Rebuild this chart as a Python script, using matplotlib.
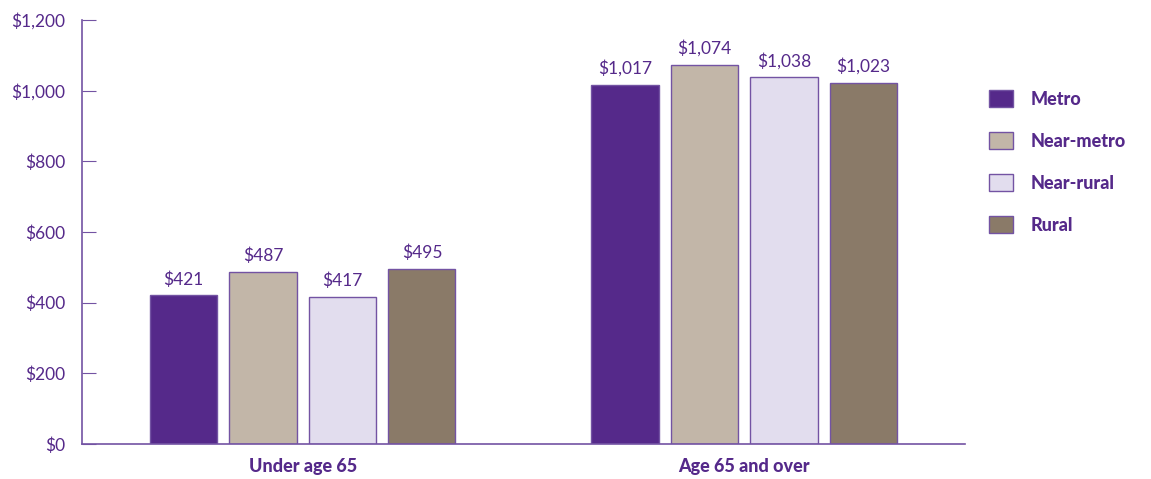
import numpy as np
import matplotlib.pyplot as plt
from matplotlib.patches import Patch

groups = ["Under age 65", "Age 65 and over"]
series = ["Metro", "Near-metro", "Near-rural", "Rural"]
metro = [421, 1017]
near_metro = [487, 1074]
near_rural = [417, 1038]
rural = [495, 1023]
yticks = [0, 200, 400, 600, 800, 1000, 1200]

values = [metro, near_metro, near_rural, rural]
colors = ["#55298a", "#c2b6a8", "#e2ddee", "#8a7a68"]
purple = "#55298a"
edge = "#7353a3"

plt.rcParams['font.family'] = ['Lato', 'DejaVu Sans']

fig = plt.figure(figsize=(11.51, 4.79), dpi=100)
ax = fig.add_axes([0.0712, 0.073, 0.7672, 0.885])

x = np.arange(len(groups))
step = 0.18
width = 0.152
for k, (vals, c) in enumerate(zip(values, colors)):
    pos = x + (k - 1.5) * step
    ax.bar(pos, vals, width, color=c, edgecolor=edge, linewidth=1.0, zorder=2)
    for p, v in zip(pos, vals):
        ax.text(p, v + 22, "${:,}".format(v), ha='center', va='bottom',
                fontsize=12.5, color=purple)

ax.set_xlim(-0.5, 1.5)
ax.set_ylim(0, 1200)
ax.set_yticks(yticks)
ax.set_yticklabels(["${:,}".format(t) for t in yticks])
ax.set_xticks(x)
ax.set_xticklabels(groups, fontweight='black')
ax.tick_params(axis='y', direction='in', length=10, color=edge, labelcolor=purple,
               labelsize=12.5, pad=12)
ax.tick_params(axis='x', length=0, labelcolor=purple, labelsize=13, pad=10)
for s in ['top', 'right']:
    ax.spines[s].set_visible(False)
for s in ['left', 'bottom']:
    ax.spines[s].set_color(edge)
    ax.spines[s].set_linewidth(1.2)

handles = [Patch(facecolor=c, edgecolor=edge, label=s) for s, c in zip(series, colors)]
leg = fig.legend(handles=handles, loc='upper left', bbox_to_anchor=(0.8593, 0.812),
                 frameon=False, fontsize=13, handlelength=1.33, handleheight=1.05,
                 labelspacing=1.36, handletextpad=1.0, borderpad=0, borderaxespad=0)
for t in leg.get_texts():
    t.set_color(purple)
    t.set_fontweight('black')

fig.savefig("out.png", dpi=100)
